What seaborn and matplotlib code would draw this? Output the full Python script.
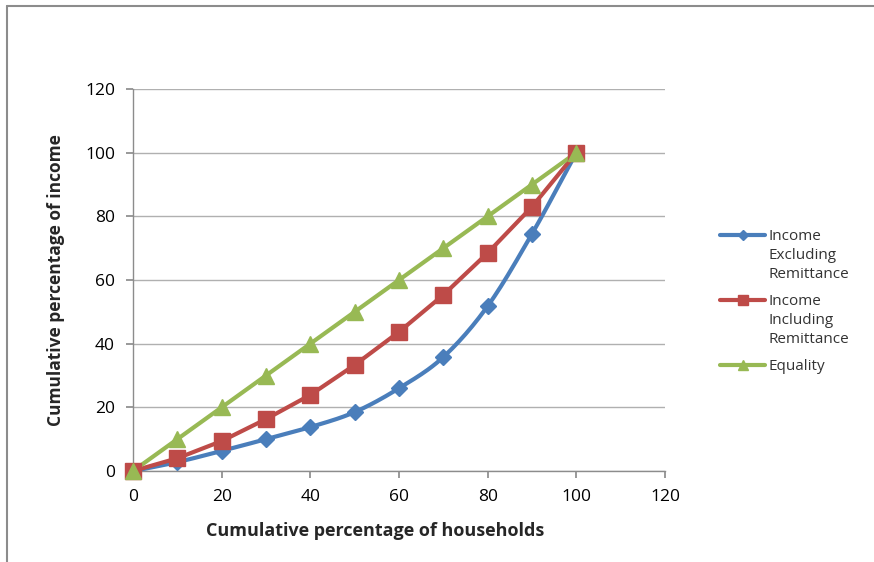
import numpy as np
import pandas as pd
import seaborn as sns
import matplotlib.pyplot as plt
from matplotlib.lines import Line2D

households = [0, 10, 20, 30, 40, 50, 60, 70, 80, 90, 100]
income_excl = [0, 2.8, 6.3, 10.0, 13.8, 18.5, 26.0, 35.8, 51.8, 74.5, 100]
income_incl = [0, 4.0, 9.4, 16.3, 23.9, 33.3, 43.7, 55.3, 68.5, 83.0, 100]
equality = [0, 10, 20, 30, 40, 50, 60, 70, 80, 90, 100]

series_names = ["Income\nExcluding\nRemittance", "Income\nIncluding\nRemittance", "Equality"]
colors = ["#4A7EBB", "#BE4B48", "#98B954"]
markers = ["D", "s", "^"]
msizes = [8, 11, 12]

sns.set_theme(style="white")
plt.rcParams["font.family"] = ["Open Sans", "DejaVu Sans"]

W, H = 874, 562
fig = plt.figure(figsize=(W / 100, H / 100), dpi=100)
ax = fig.add_axes([133 / W, 1 - 471 / H, 532 / W, 382 / H])

df = pd.DataFrame({"x": households, "excl": income_excl,
                   "incl": income_incl, "eq": equality})


def smooth(xs, ys, n=20):
    # Catmull-Rom curve through the points
    xs = np.asarray(xs, float); ys = np.asarray(ys, float)
    px = np.concatenate([[2 * xs[0] - xs[1]], xs, [2 * xs[-1] - xs[-2]]])
    py = np.concatenate([[2 * ys[0] - ys[1]], ys, [2 * ys[-1] - ys[-2]]])
    ox, oy = [], []
    t = np.linspace(0, 1, n, endpoint=False)
    for i in range(1, len(px) - 2):
        for arr, out in ((px, ox), (py, oy)):
            p0, p1, p2, p3 = arr[i - 1], arr[i], arr[i + 1], arr[i + 2]
            out.extend(0.5 * ((2 * p1) + (-p0 + p2) * t
                              + (2 * p0 - 5 * p1 + 4 * p2 - p3) * t ** 2
                              + (-p0 + 3 * p1 - 3 * p2 + p3) * t ** 3))
    ox.append(xs[-1]); oy.append(ys[-1])
    return np.array(ox), np.array(oy)


sx, sy = smooth(df["x"], df["excl"])
sns.lineplot(x=sx, y=sy, ax=ax, color=colors[0], lw=3, sort=False, zorder=3)
sns.lineplot(data=df, x="x", y="incl", ax=ax, color=colors[1], lw=3, zorder=3)
sns.lineplot(data=df, x="x", y="eq", ax=ax, color=colors[2], lw=3, zorder=3)

for col, c, m, s in zip(["excl", "incl", "eq"], colors, markers, msizes):
    ax.plot(df["x"], df[col], ls="none", marker=m, ms=s, color=c,
            mec=c, zorder=4, clip_on=False)

ax.set_xlim(0, 120)
ax.set_ylim(0, 120)
ax.set_xticks(range(0, 121, 20))
ax.set_yticks(range(0, 121, 20))
ax.yaxis.grid(True, color="#B0B0B0", lw=1)
ax.xaxis.grid(False)
for side in ("top", "right"):
    ax.spines[side].set_visible(False)
for side in ("left", "bottom"):
    ax.spines[side].set_color("#8C8C8C")
    ax.spines[side].set_linewidth(1)
ax.tick_params(axis="both", which="major", length=5, color="#8C8C8C",
               labelsize=12.5, labelcolor="#000000", direction="out",
               bottom=True, left=True, pad=8)

ax.set_xlabel("")
ax.set_ylabel("Cumulative percentage of income", fontsize=12.5,
              fontweight="bold", labelpad=14)
fig.text(375 / W, 1 - 531 / H, "Cumulative percentage of households",
         fontsize=13, fontweight="bold", ha="center", va="center")

# legend: line sample aligned with the first text line of each entry
legend_tops = [235, 300, 365]
for name, c, m, s, yt in zip(series_names, colors, markers, msizes, legend_tops):
    yf = 1 - yt / H
    fig.add_artist(Line2D([720 / W, 765 / W], [yf, yf], color=c, lw=3,
                          transform=fig.transFigure))
    fig.add_artist(Line2D([742.5 / W], [yf], color=c, marker=m, ms=s * 0.6,
                          mec=c, transform=fig.transFigure))
    fig.text(768 / W, 1 - (yt - 6) / H, name, fontsize=11, color="#333333",
             ha="left", va="top", linespacing=1.35,
             transform=fig.transFigure)

# outer frame lines
fig.add_artist(Line2D([0.008, 0.008], [0, 0.989], color="#8C8C8C", lw=1.5,
                      transform=fig.transFigure))
fig.add_artist(Line2D([0.008, 1.0], [0.989, 0.989], color="#8C8C8C", lw=1.5,
                      transform=fig.transFigure))

fig.savefig("out.png", dpi=100)
